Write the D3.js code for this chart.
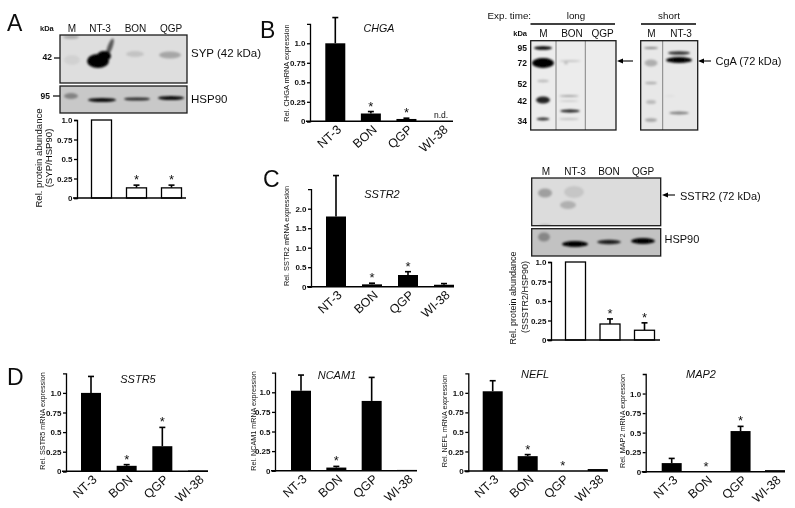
<!DOCTYPE html>
<html>
<head>
<meta charset="utf-8">
<script src="https://cdn.jsdelivr.net/npm/d3@7"></script>
<style>
 body { margin: 0; background: #fff; }
 text { font-family: "Liberation Sans", Arial, sans-serif; fill: #111; }
</style>
</head>
<body>
<div id="canvas"></div>
<script>
// categories
var cellLines = ["NT-3", "BON", "QGP", "WI-38"];
var proteinLines = ["NT-3", "BON", "QGP"];

// tick labels
var tickMrna = [0, 0.25, 0.5, 0.75, 1.0];
var tickMrnaLabels = ["0", "0.25", "0.5", "0.75", "1.0"];
var tickSstr2 = [0, 0.5, 1.0, 1.5, 2.0];
var tickSstr2Labels = ["0", "0.5", "1.0", "1.5", "2.0"];

// series (value, top of error bar, significance star)
var sypValues = [1.0, 0.13, 0.13];
var sypErr = [1.0, 0.165, 0.165];
var sypStars = [0, 1, 1];

var chgaValues = [1.0, 0.1, 0.03, 0];
var chgaErr = [1.33, 0.125, 0.04, 0];
var chgaStars = [0, 1, 1, 0];

var sstr2Values = [1.8, 0.06, 0.3, 0.05];
var sstr2Err = [2.85, 0.09, 0.385, 0.08];
var sstr2Stars = [0, 1, 1, 0];

var sstr2ProtValues = [1.0, 0.205, 0.125];
var sstr2ProtErr = [1.0, 0.27, 0.22];
var sstr2ProtStars = [0, 1, 1];

var sstr5Values = [1.0, 0.07, 0.32, 0.01];
var sstr5Err = [1.21, 0.085, 0.56, 0.01];
var sstr5Stars = [0, 1, 1, 0];

var ncam1Values = [1.02, 0.04, 0.89, 0.01];
var ncam1Err = [1.22, 0.055, 1.19, 0.01];
var ncam1Stars = [0, 1, 0, 0];

var neflValues = [1.02, 0.19, 0, 0.025];
var neflErr = [1.155, 0.21, 0, 0.025];
var neflStars = [0, 1, 1, 0];

var map2Values = [0.11, 0, 0.52, 0.02];
var map2Err = [0.17, 0, 0.58, 0.02];
var map2Stars = [0, 1, 1, 0];

var svg = d3.select("#canvas")
	.append("svg")
	.attr("width", 795)
	.attr("height", 508);

var defs = svg.append("defs");
defs.append("filter").attr("id", "soft").attr("x", "-5%").attr("y", "-5%").attr("width", "110%").attr("height", "110%")
	.append("feGaussianBlur").attr("stdDeviation", 0.45);
defs.append("filter").attr("id", "band").attr("x", "-60%").attr("y", "-100%").attr("width", "220%").attr("height", "300%")
	.append("feGaussianBlur").attr("stdDeviation", 1.2);

// everything sits in one slightly soft group, the source is a low-res scan
var root = svg.append("g").attr("filter", "url(#soft)");

function label(txt, x, y, size, opts) {
	opts = opts || {};
	return root.append("text")
		.attr("x", x)
		.attr("y", y)
		.attr("text-anchor", opts.anchor || "start")
		.style("font-size", size + "px")
		.style("font-style", opts.italic ? "italic" : "normal")
		.style("font-weight", opts.bold ? "bold" : "normal")
		.text(txt);
}

function rotLabel(txt, x, y, size) {
	root.append("text")
		.attr("transform", "translate(" + x + "," + y + ") rotate(-90)")
		.attr("text-anchor", "middle")
		.style("font-size", size + "px")
		.text(txt);
}

// function for drawing one blot: grey box, blurred bands, lane dividers, frame
function drawBlot(id, box, bg, bands, dividers) {
	var clip = defs.append("clipPath").attr("id", id);
	clip.append("rect").attr("x", box[0]).attr("y", box[1]).attr("width", box[2]).attr("height", box[3]);

	root.append("rect")
		.attr("x", box[0]).attr("y", box[1]).attr("width", box[2]).attr("height", box[3])
		.attr("fill", bg);

	root.append("g").attr("clip-path", "url(#" + id + ")")
		.append("g").attr("filter", "url(#band)")
		.selectAll("ellipse").data(bands).enter().append("ellipse")
		.attr("cx", function(d) { return d[0]; })
		.attr("cy", function(d) { return d[1]; })
		.attr("rx", function(d) { return d[2]; })
		.attr("ry", function(d) { return d[3]; })
		.attr("fill", "#000")
		.attr("opacity", function(d) { return d[4]; })
		.attr("transform", function(d) {
			return d[5] ? "rotate(" + d[5] + "," + d[0] + "," + d[1] + ")" : null;
		});

	(dividers || []).forEach(function(dx) {
		root.append("line").attr("x1", dx).attr("x2", dx).attr("y1", box[1]).attr("y2", box[1] + box[3])
			.attr("stroke", "#777").attr("stroke-width", 0.9);
	});

	root.append("rect")
		.attr("x", box[0]).attr("y", box[1]).attr("width", box[2]).attr("height", box[3])
		.attr("fill", "none").attr("stroke", "#1a1a1a").attr("stroke-width", 1.3);
}

// function for drawing one bar panel
function drawBars(p) {
	var step = (p.last - p.first) / (p.cats.length - 1);
	var x = d3.scaleBand()
		.domain(p.cats)
		.range([p.first - step / 2, p.last + step / 2])
		.paddingInner(1 - 20 / step)
		.paddingOuter((1 - 20 / step) / 2);

	var y = d3.scaleLinear().domain([0, p.max]).range([p.y0, p.yTop]);

	var g = root.append("g");

	// error bars go first so the bars cover the lower half
	p.values.forEach(function(v, i) {
		if (p.err[i] <= v) return;
		var cx = x(p.cats[i]) + x.bandwidth() / 2;
		g.append("line").attr("x1", cx).attr("x2", cx).attr("y1", y(v)).attr("y2", y(p.err[i]))
			.attr("stroke", "#000").attr("stroke-width", 1.6);
		g.append("line").attr("x1", cx - 3).attr("x2", cx + 3).attr("y1", y(p.err[i])).attr("y2", y(p.err[i]))
			.attr("stroke", "#000").attr("stroke-width", 1.6);
	});

	g.selectAll("rect.bar").data(p.values).enter().append("rect")
		.attr("class", "bar")
		.attr("x", function(d, i) { return x(p.cats[i]); })
		.attr("y", function(d) { return y(d); })
		.attr("width", x.bandwidth())
		.attr("height", function(d) { return y(0) - y(d); })
		.attr("fill", p.open ? "#fff" : "#000")
		.attr("stroke", "#000")
		.attr("stroke-width", p.open ? 1.3 : 0);

	// baseline
	g.append("line").attr("x1", p.axisX - 4).attr("x2", p.lineEnd).attr("y1", y(0)).attr("y2", y(0))
		.attr("stroke", "#000").attr("stroke-width", 1.5);

	// stars
	p.stars.forEach(function(s, i) {
		if (!s) return;
		g.append("text")
			.attr("x", x(p.cats[i]) + x.bandwidth() / 2)
			.attr("y", y(Math.max(p.err[i], p.values[i])) - 1)
			.attr("text-anchor", "middle")
			.style("font-size", "13px")
			.text("*");
	});

	// y axis
	var yAxis = d3.axisLeft(y)
		.tickValues(p.ticks)
		.tickFormat(function(d, i) { return p.tickLabels[i]; })
		.tickSize(3)
		.tickSizeOuter(3)
		.tickPadding(1.5);
	var ay = g.append("g").attr("transform", "translate(" + p.axisX + ",0)").call(yAxis);
	ay.selectAll("path").attr("stroke", "#000").attr("stroke-width", 1.3);
	ay.selectAll("line").attr("stroke", "#000").attr("stroke-width", 1.3);
	ay.selectAll("text").style("font-size", "8px").style("font-weight", "bold").style("font-family", "Liberation Sans");

	// x labels, rotated (protein panels have none)
	if (!p.noXLabels) {
		var xAxis = d3.axisBottom(x).tickSize(0).tickPadding(4);
		var ax = g.append("g").attr("transform", "translate(0," + y(0) + ")").call(xAxis);
		ax.select("path").remove();
		ax.selectAll("text")
			.style("font-size", "12.5px")
			.style("font-family", "Liberation Sans")
			.attr("text-anchor", "end")
			.attr("dx", "-0.1em")
			.attr("dy", "0.6em")
			.attr("transform", "rotate(-42)");
	}
}

// panel letters
label("A", 7, 31, 23);
label("B", 260, 38, 23);
label("C", 263, 187, 23);
label("D", 7, 385, 23);

// ---- panel A ----
label("kDa", 40, 31, 7.5, { bold: true });
label("M", 72, 32, 10, { anchor: "middle" });
label("NT-3", 100, 32, 10, { anchor: "middle" });
label("BON", 135.5, 32, 10, { anchor: "middle" });
label("QGP", 171, 32, 10, { anchor: "middle" });
label("42", 52, 60, 8.5, { anchor: "end", bold: true });
label("95", 50, 99, 8.5, { anchor: "end", bold: true });
root.append("line").attr("x1", 54).attr("x2", 60).attr("y1", 58).attr("y2", 58).attr("stroke", "#000").attr("stroke-width", 1.2);
root.append("line").attr("x1", 53).attr("x2", 60).attr("y1", 96).attr("y2", 96).attr("stroke", "#000").attr("stroke-width", 1.2);

drawBlot("blotA1", [60, 35, 127, 48], "#dedede", [
	[71, 37, 8, 2, 0.22],
	[72, 60, 8, 5, 0.06],
	[98, 61, 11, 7, 1],
	[104, 56, 7, 5, 1],
	[110, 47, 2.5, 9, 0.6, 20],
	[135, 54, 9, 3, 0.12],
	[170, 55, 11, 3.5, 0.25]
]);
drawBlot("blotA2", [60, 86, 127, 27], "#c8c8c8", [
	[71, 96, 7, 3, 0.35],
	[102, 100, 14, 2, 0.95],
	[137, 99, 13, 1.6, 0.8],
	[171, 98, 13, 2, 0.95]
]);
label("SYP (42 kDa)", 191, 57, 11.5);
label("HSP90", 191, 103, 11.5);

drawBars({
	cats: proteinLines, values: sypValues, err: sypErr, stars: sypStars, open: true, noXLabels: true,
	ticks: tickMrna, tickLabels: tickMrnaLabels, max: 1,
	y0: 198, yTop: 120, axisX: 77, lineEnd: 186, first: 101.5, last: 171.5
});
rotLabel("Rel. protein abundance", 42, 158, 9.6);
rotLabel("(SYP/HSP90)", 52, 158, 9.6);

// ---- panel B ----
drawBars({
	cats: cellLines, values: chgaValues, err: chgaErr, stars: chgaStars,
	ticks: tickMrna, tickLabels: tickMrnaLabels, max: 1.25,
	y0: 121.3, yTop: 23.8, axisX: 310, lineEnd: 453, first: 335.3, last: 442
});
label("CHGA", 379, 32, 10.7, { anchor: "middle", italic: true });
label("n.d.", 441, 118, 8.5, { anchor: "middle" });
rotLabel("Rel. CHGA mRNA expression", 289, 73, 7.4);

// ---- CgA blots ----
label("Exp. time:", 487.5, 19, 9.8);
label("long", 576, 19, 9.8, { anchor: "middle" });
label("short", 669, 19, 9.8, { anchor: "middle" });
root.append("line").attr("x1", 530.5).attr("x2", 615).attr("y1", 24).attr("y2", 24).attr("stroke", "#000").attr("stroke-width", 1.3);
root.append("line").attr("x1", 641).attr("x2", 696).attr("y1", 24).attr("y2", 24).attr("stroke", "#000").attr("stroke-width", 1.3);
label("kDa", 527, 36, 7.5, { anchor: "end", bold: true });
label("M", 543.5, 37, 10, { anchor: "middle" });
label("BON", 572, 37, 10, { anchor: "middle" });
label("QGP", 602.5, 37, 10, { anchor: "middle" });
label("M", 651.5, 37, 10, { anchor: "middle" });
label("NT-3", 681, 37, 10, { anchor: "middle" });
var cgaMarkers = ["95", "72", "52", "42", "34"];
var cgaMarkerY = [51, 66, 87, 104, 124];
cgaMarkers.forEach(function(m, i) {
	label(m, 527, cgaMarkerY[i], 8.5, { anchor: "end", bold: true });
});

drawBlot("blotB1", [530.7, 40.7, 85.3, 89.3], "#ececec", [
	[543, 48, 9, 1.8, 1],
	[543, 63, 11, 5, 1],
	[543, 81, 6, 1.5, 0.2],
	[543, 100, 7, 3.5, 0.85],
	[543, 119, 6.5, 1.4, 0.8],
	[570, 61, 11, 0.8, 0.22],
	[566, 63, 2, 1.6, 0.18],
	[569, 96, 10, 0.8, 0.4],
	[569, 101, 10, 0.8, 0.16],
	[570, 111, 10, 1.5, 0.9],
	[569, 119, 10, 1, 0.18]
], [556, 585.3]);
drawBlot("blotB2", [640.7, 40.7, 57, 89.3], "#e8e8e8", [
	[651, 48, 7, 1, 0.45],
	[651, 63, 6.5, 3.5, 0.25],
	[651, 83, 6, 1.3, 0.25],
	[651, 102, 5, 2, 0.2],
	[651, 120, 6, 1.8, 0.3],
	[679, 53, 11, 1.8, 0.8],
	[679, 60, 13, 3, 1],
	[679, 113, 10, 1.5, 0.45],
	[670, 96, 6, 0.5, 0.08]
], [662.7]);

function arrow(x1, x2, y) {
	root.append("line").attr("x1", x1).attr("x2", x2 + 3).attr("y1", y).attr("y2", y).attr("stroke", "#000").attr("stroke-width", 1.1);
	root.append("path")
		.attr("d", d3.line()([[x2, y], [x2 + 6, y - 2.6], [x2 + 6, y + 2.6]]))
		.attr("fill", "#000");
}
arrow(633, 617, 61);
arrow(711, 698, 61);
label("CgA (72 kDa)", 715.5, 65, 11);

// ---- panel C ----
drawBars({
	cats: cellLines, values: sstr2Values, err: sstr2Err, stars: sstr2Stars,
	ticks: tickSstr2, tickLabels: tickSstr2Labels, max: 2.5,
	y0: 286.7, yTop: 189.2, axisX: 311, lineEnd: 454, first: 336, last: 444
});
label("SSTR2", 382, 198, 11, { anchor: "middle", italic: true });
rotLabel("Rel. SSTR2 mRNA expression", 289, 236, 7.4);

label("M", 546, 175, 10, { anchor: "middle" });
label("NT-3", 575, 175, 10, { anchor: "middle" });
label("BON", 609, 175, 10, { anchor: "middle" });
label("QGP", 643, 175, 10, { anchor: "middle" });
drawBlot("blotC1", [531.7, 178, 129, 47.7], "#dcdcdc", [
	[545, 193, 7, 4.5, 0.28],
	[574, 192, 10, 6, 0.1],
	[568, 205, 8, 4, 0.2],
	[545, 226, 6, 2, 0.15]
]);
drawBlot("blotC2", [531.7, 228.7, 129, 27.3], "#c2c2c2", [
	[544, 237, 6, 4.5, 0.3],
	[575, 244, 13, 3, 1],
	[609, 242, 12, 2.2, 0.85],
	[643, 241, 12, 3, 1]
]);
arrow(675, 662, 195);
label("SSTR2 (72 kDa)", 680, 200, 11);
label("HSP90", 664.5, 243, 11);

drawBars({
	cats: proteinLines, values: sstr2ProtValues, err: sstr2ProtErr, stars: sstr2ProtStars, open: true, noXLabels: true,
	ticks: tickMrna, tickLabels: tickMrnaLabels, max: 1,
	y0: 340, yTop: 262, axisX: 551, lineEnd: 660, first: 575.5, last: 644.5
});
rotLabel("Rel. protein abundance", 516, 298, 9);
rotLabel("(SSSTR2/HSP90)", 528, 297, 9);

// ---- panel D ----
drawBars({
	cats: cellLines, values: sstr5Values, err: sstr5Err, stars: sstr5Stars,
	ticks: tickMrna, tickLabels: tickMrnaLabels, max: 1.25,
	y0: 471.3, yTop: 373.3, axisX: 66, lineEnd: 208, first: 91, last: 198
});
label("SSTR5", 138, 383, 11, { anchor: "middle", italic: true });
rotLabel("Rel. SSTR5 mRNA expression", 45, 421, 7.2);

drawBars({
	cats: cellLines, values: ncam1Values, err: ncam1Err, stars: ncam1Stars,
	ticks: tickMrna, tickLabels: tickMrnaLabels, max: 1.25,
	y0: 470.7, yTop: 372.7, axisX: 275, lineEnd: 417, first: 301, last: 407
});
label("NCAM1", 337, 379, 11, { anchor: "middle", italic: true });
rotLabel("Rel. NCAM1 mRNA expression", 256, 421, 7.2);

drawBars({
	cats: cellLines, values: neflValues, err: neflErr, stars: neflStars,
	ticks: tickMrna, tickLabels: tickMrnaLabels, max: 1.25,
	y0: 471, yTop: 373.3, axisX: 468.3, lineEnd: 608, first: 492.7, last: 597.7
});
label("NEFL", 535, 378, 11, { anchor: "middle", italic: true });
rotLabel("Rel. NEFL mRNA expression", 447, 421, 7.2);

drawBars({
	cats: cellLines, values: map2Values, err: map2Err, stars: map2Stars,
	ticks: tickMrna, tickLabels: tickMrnaLabels, max: 1.25,
	y0: 471.7, yTop: 374, axisX: 645.7, lineEnd: 785, first: 671.7, last: 775
});
label("MAP2", 701, 378, 11, { anchor: "middle", italic: true });
rotLabel("Rel. MAP2 mRNA expression", 625, 421, 7.2);
</script>
</body>
</html>
